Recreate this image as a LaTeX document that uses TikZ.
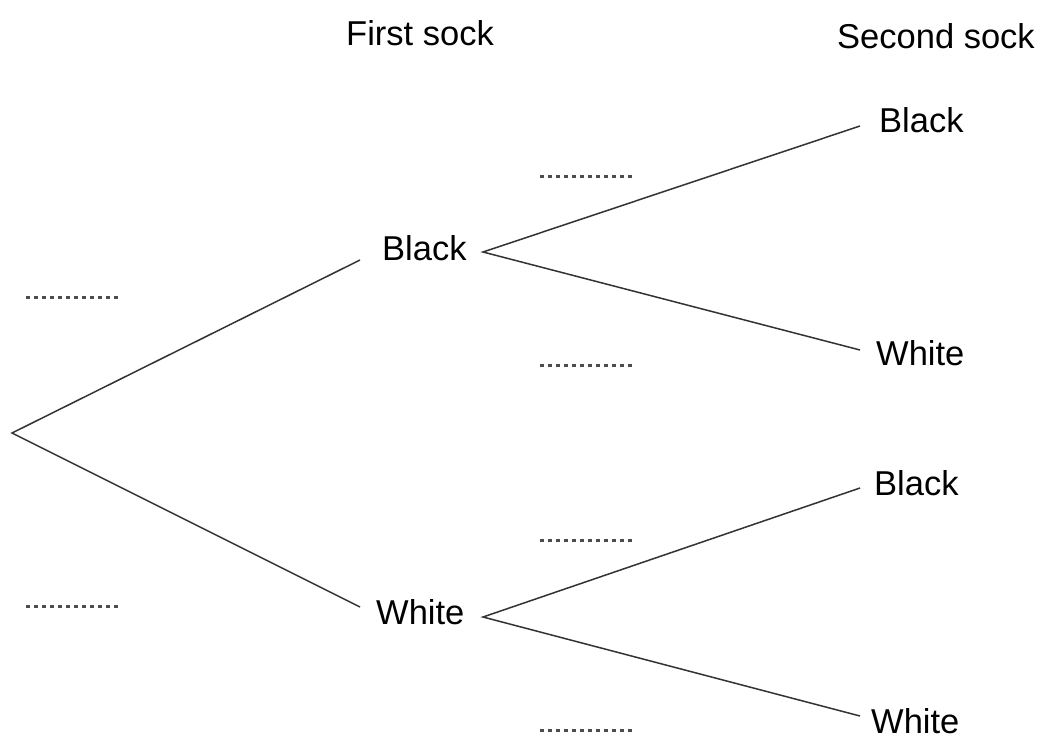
\documentclass[tikz,border=0pt]{standalone}
\usepackage{fontspec}
\setmainfont{Liberation Sans}
\begin{document}
\begin{tikzpicture}[x=1pt,y=-1pt,
  lbl/.style={anchor=base west,inner sep=0pt,font=\fontsize{34.5}{40}\selectfont},
  branch/.style={draw=black!80,line width=1.5pt},
  blank/.style={draw=black!70,line width=3pt,dash pattern=on 3.5pt off 4.5pt}]
\useasboundingbox[fill=white] (0,0) rectangle (1047,740);
% headers
\node[lbl] (h1) at (346,45) {First sock};
\node[lbl] (h2) at (837,48) {Second sock};
% labels
\node[lbl] (b1) at (382,260) {Black};
\node[lbl] (w1) at (376,624) {White};
\node[lbl] (bb) at (879,132) {Black};
\node[lbl] (bw) at (876,365) {White};
\node[lbl] (wb) at (874,495) {Black};
\node[lbl] (ww) at (871,733) {White};
% connector points
\coordinate (r) at (12,433);
\coordinate (b1in) at (360,260);
\coordinate (w1in) at (360,607);
\coordinate (b1out) at (483,252);
\coordinate (w1out) at (483,617);
\coordinate (bbin) at (860,126);
\coordinate (bwin) at (860,350);
\coordinate (wbin) at (860,488);
\coordinate (wwin) at (860,716);
\draw[branch] (b1in) -- (r) -- (w1in);
\draw[branch] (bbin) -- (b1out) -- (bwin);
\draw[branch] (wbin) -- (w1out) -- (wwin);
% blanks
\coordinate (d1a) at (26,297); \coordinate (d1b) at (122,297);
\coordinate (d2a) at (26,606); \coordinate (d2b) at (122,606);
\coordinate (d3a) at (540,176); \coordinate (d3b) at (636,176);
\coordinate (d4a) at (540,365); \coordinate (d4b) at (636,365);
\coordinate (d5a) at (540,540); \coordinate (d5b) at (636,540);
\coordinate (d6a) at (540,730); \coordinate (d6b) at (636,730);
\foreach \i in {1,...,6} \draw[blank] (d\i a) -- (d\i b);
\end{tikzpicture}
\end{document}
